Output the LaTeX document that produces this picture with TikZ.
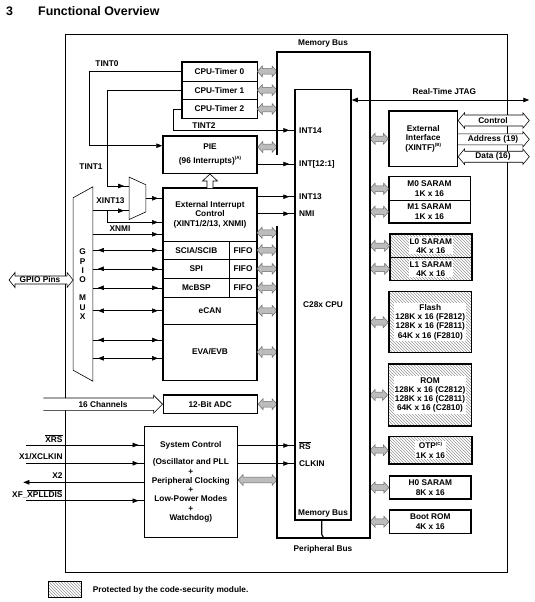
\documentclass[tikz,border=0pt]{standalone}
\usepackage{fontspec}
\setmainfont{Liberation Sans}
\usepackage{tikz}
\usetikzlibrary{arrows.meta, calc, patterns, decorations.markings}
\definecolor{busgray}{RGB}{188, 188, 188}
\definecolor{busedge}{RGB}{105, 105, 105}
\definecolor{hatchgray}{RGB}{150, 150, 150}
\newcommand{\ovl}[1]{$\overline{\mbox{#1}}$}
\newcommand{\supnote}[1]{\raisebox{3.5pt}{\fontsize{4.5}{5}\selectfont(#1)}}
% gray double arrow onto a bus: start point, x of end point
\newcommand{\busarr}[2]{%
  \path #1 coordinate (ba1) #2 coordinate (ba2);
  \draw[busarrow] let \p1=(ba1), \p2=(ba2) in
    (\x1,\y1) -- (\x1+5pt,\y1+5.5pt) -- (\x1+5pt,\y1+2.8pt) -- (\x2-5pt,\y1+2.8pt)
    -- (\x2-5pt,\y1+5.5pt) -- (\x2,\y1) -- (\x2-5pt,\y1-5.5pt) -- (\x2-5pt,\y1-2.8pt)
    -- (\x1+5pt,\y1-2.8pt) -- (\x1+5pt,\y1-5.5pt) -- cycle;}
% open arrows: start, x of end, body half height, head half height, head length
\newcommand{\hollowboth}[5]{%
  \path #1 coordinate (ha1) #2 coordinate (ha2);
  \draw[hollow] let \p1=(ha1), \p2=(ha2) in
    (\x1,\y1) -- (\x1+#5,\y1+#4) -- (\x1+#5,\y1+#3) -- (\x2-#5,\y1+#3) -- (\x2-#5,\y1+#4)
    -- (\x2,\y1) -- (\x2-#5,\y1-#4) -- (\x2-#5,\y1-#3) -- (\x1+#5,\y1-#3) -- (\x1+#5,\y1-#4) -- cycle;}
\newcommand{\hollowright}[5]{%
  \path #1 coordinate (ha1) #2 coordinate (ha2);
  \draw[hollow] let \p1=(ha1), \p2=(ha2) in
    (\x1,\y1+#3) -- (\x2-#5,\y1+#3) -- (\x2-#5,\y1+#4) -- (\x2,\y1)
    -- (\x2-#5,\y1-#4) -- (\x2-#5,\y1-#3) -- (\x1,\y1-#3);}
\tikzset{
  txt/.style={font=\bfseries\fontsize{8.3}{9.3}\selectfont, align=center, inner sep=0pt},
  blk/.style={txt, draw, line width=1.5pt},
  cell/.style={txt, draw, line width=0.6pt},
  hcell/.style={draw, line width=0.6pt, pattern=north west lines, pattern color=hatchgray},
  hlabel/.style={txt, fill=white, inner sep=1pt},
  outline/.style={draw, line width=1.5pt},
  busline/.style={line width=2.6pt},
  busarrow/.style={fill=busgray, draw=busedge, line width=0.5pt},
  hollow/.style={draw, fill=white, line width=0.6pt},
  sigtip/.tip={Triangle[length=6pt, width=4.5pt]},
  sig/.style={line width=0.6pt, decoration={markings, mark=at position -5pt with {\arrow{sigtip}}}, postaction=decorate},
  sigboth/.style={line width=0.6pt, decoration={markings, mark=at position 5pt with {\arrowreversed{sigtip}}, mark=at position -5pt with {\arrow{sigtip}}}, postaction=decorate},
  sigend/.style={line width=0.6pt, -sigtip},
}
\begin{document}
\begin{tikzpicture}[x=1pt, y=-1pt]
\useasboundingbox (0,0) rectangle (535,602);
\node[font=\bfseries\fontsize{12.4}{14}\selectfont, anchor=west, inner sep=0pt] (secnum) at (6,11) {3};
\node[font=\bfseries\fontsize{12.4}{14}\selectfont, anchor=west, inner sep=0pt] (sectitle) at (38,11) {Functional Overview};
\draw[line width=0.6pt] (65,34) rectangle (507,572);

% timers and PIE
\node[cell, minimum width=75pt, minimum height=18.8pt] (tmr0) at (219.5,71.4) {CPU-Timer 0};
\node[cell, minimum width=75pt, minimum height=18.8pt] (tmr1) at (219.5,90.2) {CPU-Timer 1};
\node[cell, minimum width=75pt, minimum height=18.8pt] (tmr2) at (219.5,109) {CPU-Timer 2};
\draw[outline] (tmr0.north west) rectangle (tmr2.south east);
\node[blk, minimum width=94pt, minimum height=37.5pt] (pie) at (210,154.5) {PIE\\[4.3pt](96 Interrupts)\supnote{A}};

% peripherals
\node[cell, minimum width=93.4pt, minimum height=52.7pt] (extint) at (210,214.7) {External Interrupt\\Control\\(XINT1/2/13, XNMI)};
\node[cell, minimum width=66pt, minimum height=18.3pt] (sci) at (196.3,250.2) {SCIA/SCIB};
\node[cell, minimum width=27.4pt, minimum height=18.3pt] (scififo) at (243,250.2) {FIFO};
\node[cell, minimum width=66pt, minimum height=19pt] (spi) at (196.3,268.8) {SPI};
\node[cell, minimum width=27.4pt, minimum height=19pt] (spififo) at (243,268.8) {FIFO};
\node[cell, minimum width=66pt, minimum height=19pt] (mcbsp) at (196.3,287.8) {McBSP};
\node[cell, minimum width=27.4pt, minimum height=19pt] (mcbspfifo) at (243,287.8) {FIFO};
\node[cell, minimum width=93.4pt, minimum height=26.7pt] (ecan) at (210,310.7) {eCAN};
\node[cell, minimum width=93.4pt, minimum height=56pt] (eva) at (210,352) {EVA/EVB};
\draw[outline] (extint.north west) rectangle (eva.south east);
\node[blk, minimum width=94pt, minimum height=18.3pt] (adc) at (210.3,404.2) {12-Bit ADC};
\node[blk, minimum width=93pt, minimum height=110.6pt] (sysctl) at (190.8,482) {System Control\\[7.7pt](Oscillator and PLL\\+\\Peripheral Clocking\\+\\Low-Power Modes\\+\\Watchdog)};

% muxes
\node[minimum width=19.4pt, minimum height=194pt, inner sep=0pt] (gpio) at (83,284) {};
\draw[line width=0.6pt] (gpio.north east) -- (gpio.south east) -- ($(gpio.south west)+(0,-11)$) -- ($(gpio.north west)+(0,11)$) -- cycle;
\node[txt] (gpiolbl) at (82.7,284.2) {G\\P\\I\\O\\[9pt]M\\U\\X};
\node[minimum width=16.4pt, minimum height=42pt, inner sep=0pt] (imux) at (137.5,198.3) {};
\draw[line width=0.6pt] (imux.north west) -- ($(imux.north east)+(0,7.7)$) -- ($(imux.south east)+(0,-7.6)$) -- (imux.south west) -- cycle;

% CPU
\node[blk, minimum width=56pt, minimum height=430.7pt] (cpu) at (323,304.7) {C28x CPU};
\node[txt, anchor=west] (lint14) at (299,131) {INT14};
\node[txt, anchor=west] (lint12) at (299,164) {INT[12:1]};
\node[txt, anchor=west] (lint13) at (299,196.7) {INT13};
\node[txt, anchor=west] (lnmi) at (299,213.7) {NMI};
\node[txt, anchor=west] (lrs) at (299,445.7) {\ovl{RS}};
\node[txt, anchor=west] (lclkin) at (299,464) {CLKIN};
\node[txt] (lmembus2) at (323,513.3) {Memory Bus};

% memories
\node[blk, minimum width=68.3pt, minimum height=55.7pt] (xintf) at (423.2,138.8) {External\\Interface\\(XINTF)\supnote{B}};
\node[cell, minimum width=81pt, minimum height=24pt] (m0) at (429.5,188.7) {M0 SARAM\\1K x 16};
\node[cell, minimum width=81pt, minimum height=22pt] (m1) at (429.5,211.7) {M1 SARAM\\1K x 16};
\draw[outline] (m0.north west) rectangle (m1.south east);
\node[hcell, minimum width=81.7pt, minimum height=23.6pt] (l0) at (430.8,245.8) {};
\node[hlabel] (l0txt) at (l0) {L0 SARAM\\4K x 16};
\node[hcell, minimum width=81.7pt, minimum height=22.4pt] (l1) at (430.8,268.8) {};
\node[hlabel] (l1txt) at (l1) {L1 SARAM\\4K x 16};
\draw[outline] (l0.north west) rectangle (l1.south east);
\node[hcell, line width=1.5pt, minimum width=82.7pt, minimum height=61pt] (flash) at (430.3,322.2) {};
\node[hlabel] (flashtxt) at (flash) {Flash\\128K x 16 (F2812)\\128K x 16 (F2811)\\64K x 16 (F2810)};
\node[hcell, line width=1.5pt, minimum width=83.4pt, minimum height=62pt] (rom) at (430,395) {};
\node[hlabel] (romtxt) at (rom) {ROM\\128K x 16 (C2812)\\128K x 16 (C2811)\\64K x 16 (C2810)};
\node[hcell, line width=1.5pt, minimum width=83pt, minimum height=27.3pt] (otp) at (430.5,450.3) {};
\node[hlabel] (otptxt) at (otp) {OTP\supnote{C}\\1K x 16};
\node[blk, minimum width=81.3pt, minimum height=23pt] (h0) at (430.3,487.5) {H0 SARAM\\8K x 16};
\node[blk, minimum width=81.3pt, minimum height=23.3pt] (boot) at (430.3,521.7) {Boot ROM\\4K x 16};

% bus arrows
\coordinate (pbus) at (277,0);
\coordinate (mbus) at (370,0);
\foreach \n in {tmr0,tmr1,tmr2,scififo,spififo,mcbspfifo,ecan,eva,adc}
  {\busarr{(\n.east)}{(pbus)}}
\busarr{($(pie.east)+(0,-7.5)$)}{(pbus)}
\busarr{($(extint.east)+(0,18)$)}{(pbus)}
\busarr{($(sysctl.east)+(0,-2)$)}{(pbus)}
\foreach \n in {xintf,m0,m1,l0,l1,flash,rom,otp,h0,boot}
  {\busarr{(mbus |- \n.west)}{(\n.west)}}
\draw[busline] (277,155) -- (277,52) -- (370,52) -- (370,538) -- (277,538) -- (277,226);
\draw[line width=1.2pt] ($(cpu.south)+(-1.3,0)$) -- ++(0,13.5) -- ++(2.5,4.5);
\node[txt] (lmembus) at (323,44) {Memory Bus};
\node[txt] (lperbus) at (323,549) {Peripheral Bus};

% interrupts
\draw[sigend] (tmr0.west) -- ++(-92.7,0) |- ($(pie.west)+(0,-8.8)$);
\draw[sig] (tmr1.west) -- ++(-74.7,0) |- ($(imux.west)+(0,-12.3)$);
\draw[sig] (tmr2.west) -- ++(-8.7,0) |- ($(cpu.north west)+(0,41.7)$);
\node[txt] (ltint0) at (107,64) {TINT0};
\node[txt] (ltint1) at (91,166.7) {TINT1};
\node[txt] (ltint2) at (204,125.5) {TINT2};
\draw[sig] ($(pie.east)+(0,9.5)$) coordinate (pint) -- (cpu.west |- pint);
\draw[sig] ($(extint.east)+(0,-18)$) coordinate (eint13) -- (cpu.west |- eint13);
\draw[sig] ($(extint.east)+(0,-1)$) coordinate (enmi) -- (cpu.west |- enmi);
\draw[sig] (imux.east) -- (imux.east -| extint.west);
\coordinate (x13) at ($(imux.west)+(0,12.4)$);
\draw[sig] (gpio.east |- x13) -- (x13);
\draw[sig] ($(gpio.east |- x13)+(14.6,0)$) |- ($(extint.west)+(0,7.6)$);
\coordinate (xnmi) at ($(extint.west)+(0,19.6)$);
\draw[sig] (gpio.east |- xnmi) -- (xnmi);
\node[txt] (lxint13) at (110.5,201) {XINT13};
\node[txt] (lxnmi) at (120,228.7) {XNMI};
\draw[hollow] let \p1=(extint.north), \p2=(pie.south) in
  (\x1-3pt,\y1) -- (\x1-3pt,\y2-7pt) -- (\x1-7.5pt,\y2-7pt) -- (\x1,\y2) -- (\x1+7.5pt,\y2-7pt) -- (\x1+3pt,\y2-7pt) -- (\x1+3pt,\y1);

% GPIO lines
\foreach \n in {sci,spi,mcbsp,ecan}
  \draw[sigboth] (gpio.east |- \n.west) -- (\n.west);
\coordinate (eva1) at ($(eva.west)+(0,-12)$);
\coordinate (eva2) at ($(eva.west)+(0,6.3)$);
\draw[sigboth] (gpio.east |- eva1) -- (eva1);
\draw[sigboth] (gpio.east |- eva2) -- (eva2);
\coordinate (gpins) at (9,280);
\hollowboth{(gpins)}{(gpio.west)}{4pt}{7.5pt}{6pt}
\node[txt] (lgpins) at (40,280) {GPIO Pins};
\coordinate (ch16) at (43.3,404.2);
\hollowright{(ch16)}{(adc.west)}{6.2pt}{9pt}{9pt}
\node[txt] (lch16) at (103,405) {16 Channels};

% clock and reset pins
\coordinate (pxrs) at (26,445);
\coordinate (px1) at (26,463.3);
\coordinate (px2) at (23.3,482.3);
\coordinate (pxf) at (26,500.7);
\draw[sig] (pxrs) -- (pxrs -| sysctl.west);
\draw[sig] (px1) -- (px1 -| sysctl.west);
\draw[sigend] (px2 -| sysctl.west) -- (px2);
\draw[sig] (pxf) -- (pxf -| sysctl.west);
\node[txt, anchor=east] (lxrs) at (62.7,438.3) {\ovl{XRS}};
\node[txt, anchor=east] (lx1) at (62.7,456.7) {X1/XCLKIN};
\node[txt, anchor=east] (lx2) at (62.7,475.7) {X2};
\node[txt, anchor=east] (lxf) at (62.7,494) {XF\_\ovl{XPLLDIS}};
\draw[sig] ($(sysctl.east)+(0,-36.5)$) coordinate (srs) -- (cpu.west |- srs);
\draw[sig] ($(sysctl.east)+(0,-18.5)$) coordinate (sclk) -- (cpu.west |- sclk);

% external side
\coordinate (jtag) at (529.3,100);
\draw[line width=0.8pt, sigtip-sigtip] (cpu.east |- jtag) -- (jtag);
\node[txt] (ljtag) at (444.3,91.7) {Real-Time JTAG};
\coordinate (ctlend) at (529.3,120.5);
\coordinate (adrend) at (529.3,139.3);
\coordinate (datend) at (529.3,156.7);
\hollowboth{(xintf.east |- ctlend)}{(ctlend)}{5.5pt}{7.8pt}{6.5pt}
\hollowright{(xintf.east |- adrend)}{(adrend)}{5.5pt}{7.8pt}{6.5pt}
\hollowboth{(xintf.east |- datend)}{(datend)}{5.5pt}{7.8pt}{6.5pt}
\node[txt] (lctl) at (493,120.5) {Control};
\node[txt] (ladr) at (493,139.3) {Address (19)};
\node[txt] (ldat) at (493,156.7) {Data (16)};

% legend
\node[hcell, minimum width=33.4pt, minimum height=16.3pt] (legbox) at (65,589.2) {};
\node[txt, anchor=west] (legtxt) at (92.7,590.7) {Protected by the code-security module.};
\end{tikzpicture}
\end{document}
